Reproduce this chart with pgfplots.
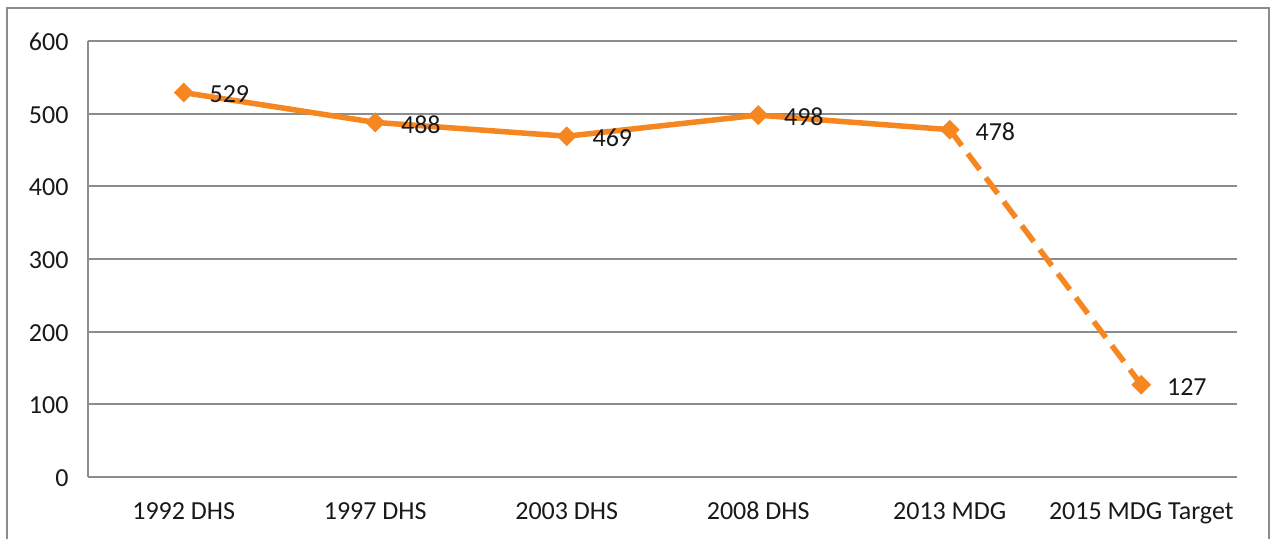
\documentclass[border=0pt]{standalone}
\usepackage{pgfplots}
\pgfplotsset{compat=1.18}
\usepackage{fontspec}
\setmainfont{Carlito}
\definecolor{mmr}{RGB}{246,134,31}
\definecolor{gridc}{RGB}{140,140,140}
\definecolor{txt}{RGB}{25,25,25}
\begin{document}
\begin{tikzpicture}[x=1pt,y=1pt]
\useasboundingbox (0,0) rectangle (1272,539);
\draw[gridc, line width=2pt] (7,0) -- (7,531) -- (1269,531) -- (1269,0);
\begin{axis}[at={(88pt,62pt)}, anchor=south west, scale only axis,
  width=1149pt, height=436pt,
  xmin=-0.5, xmax=5.5, ymin=0, ymax=600,
  ytick={0,100,200,300,400,500,600},
  xtick={0,1,2,3,4,5},
  xticklabels={1992 DHS,1997 DHS,2003 DHS,2008 DHS,2013 MDG,2015 MDG Target},
  axis line style={draw=none}, major tick length=0pt,
  ymajorgrids, grid style={gridc, line width=2pt},
  /pgf/number format/assume math mode=true,
  tick label style={font=\fontsize{26}{30}\selectfont, text=txt},
  yticklabel style={xshift=-16pt, yshift=-1pt},
  xticklabel style={anchor=base, yshift=-42pt},
  clip=false]
\draw[gridc, line width=2pt] (rel axis cs:0,0) -- (rel axis cs:0,1);
\addplot[mmr, line width=5.5pt, dash pattern=on 20pt off 10pt, forget plot]
  coordinates {(4,478) (5,127)};
\addplot[mmr, line width=5.5pt, mark=square*, mark size=6.5pt,
  mark options={solid, line width=1pt, rotate=45, fill=mmr},
  nodes near coords, point meta=explicit symbolic,
  every node near coord/.append style={anchor=west, xshift=22pt, yshift=-2pt,
    font=\fontsize{26}{30}\selectfont, text=txt}]
  coordinates {(0,529) [529] (1,488) [488] (2,469) [469] (3,498) [498] (4,478) [478]};
\addplot[mmr, draw=none, mark=square*, mark size=6.5pt,
  mark options={solid, line width=1pt, rotate=45, fill=mmr},
  nodes near coords, point meta=explicit symbolic,
  every node near coord/.append style={anchor=west, xshift=22pt, yshift=-2pt,
    font=\fontsize{26}{30}\selectfont, text=txt}]
  coordinates {(5,127) [127]};
\end{axis}
\end{tikzpicture}
\end{document}
